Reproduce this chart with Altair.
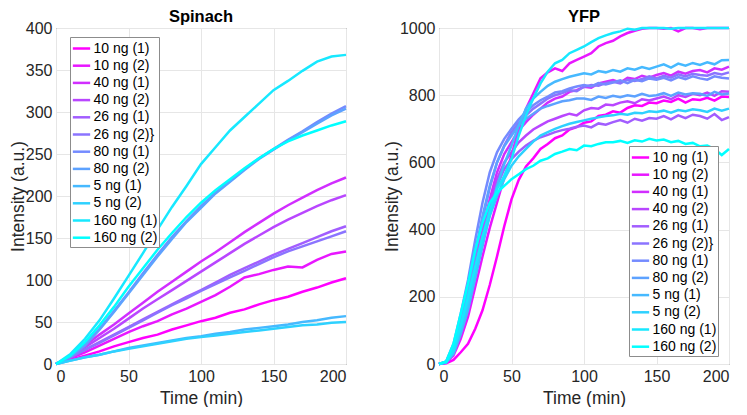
import altair as alt
import pandas as pd

FONT = "Liberation Sans"

labels = ["10 ng (1)", "10 ng (2)", "40 ng (1)", "40 ng (2)", "26 ng (1)", "26 ng (2)}",
          "80 ng (1)", "80 ng (2)", "5 ng (1)", "5 ng (2)", "160 ng (1)", "160 ng (2)"]
colors = ["#ff00ff", "#e817ff", "#d12eff", "#b946ff", "#a25dff", "#8b74ff",
          "#748bff", "#5da2ff", "#46b9ff", "#2ed1ff", "#17e8ff", "#00ffff"]

# ---- Spinach (t = 0..200 step 10) ----
spinach_time = list(range(0, 201, 10))
sp_10_1 = [0, 5, 10, 15, 21, 26, 31, 35, 41, 46, 51, 55, 61, 65, 71, 76, 80, 86, 91, 97, 102]
sp_10_2 = [0, 7, 14, 22, 30, 38, 45, 51, 59, 66, 74, 82, 92, 103, 107, 112, 116, 115, 124, 131, 134]
sp_40_1 = [0, 10, 22, 35, 47, 60, 73, 86, 98, 110, 122, 133, 145, 157, 168, 179, 189, 198, 207, 215, 222]
sp_40_2 = [0, 9, 20, 31, 42, 54, 66, 77, 88, 99, 110, 121, 132, 143, 153, 163, 172, 180, 188, 195, 201]
sp_26_1 = [0, 8, 17, 26, 35, 44, 53, 62, 71, 80, 88, 97, 106, 114, 122, 130, 137, 144, 151, 158, 164]
sp_26_2 = [0, 8, 17, 25, 34, 43, 52, 61, 70, 78, 87, 95, 103, 111, 119, 127, 134, 140, 146, 152, 158]
sp_80_1 = [0, 9, 23, 42, 63, 85, 108, 130, 151, 170, 188, 204, 218, 232, 245, 256, 267, 277, 288, 298, 307]
sp_80_2 = [0, 9, 22, 41, 62, 84, 106, 128, 149, 169, 186, 203, 217, 231, 244, 255, 266, 276, 286, 296, 304]
sp_5_1 = [0, 4, 8, 11, 15, 19, 22, 25, 28, 31, 33, 36, 38, 41, 43, 45, 47, 50, 52, 55, 57]
sp_5_2 = [0, 4, 8, 11, 15, 18, 21, 24, 27, 30, 32, 34, 36, 38, 40, 42, 44, 46, 47, 49, 50]
sp_160_1 = [0, 12, 30, 52, 78, 105, 132, 160, 187, 212, 238, 258, 278, 294, 310, 326, 337, 349, 360, 366, 368]
sp_160_2 = [0, 10, 26, 46, 68, 92, 114, 136, 156, 175, 192, 207, 220, 233, 245, 256, 265, 272, 278, 284, 289]
spinach_series = [sp_10_1, sp_10_2, sp_40_1, sp_40_2, sp_26_1, sp_26_2,
                  sp_80_1, sp_80_2, sp_5_1, sp_5_2, sp_160_1, sp_160_2]

# ---- YFP (t = 0..200 step 5) ----
yfp_time = list(range(0, 201, 5))
y_10_1 = [0, 2, 12, 35, 60, 105, 160, 235, 320, 410, 490, 548, 588, 612, 640, 655, 672, 680, 698, 705, 718,
          722, 738, 742, 752, 748, 762, 770, 768, 778, 776, 784, 780, 790, 778, 788, 786, 792, 784, 796, 795]
y_10_2 = [0, 4, 25, 75, 140, 230, 320, 405, 480, 555, 620, 700, 760, 805, 850, 868, 880, 872, 895, 905, 915,
          925, 945, 955, 962, 975, 985, 992, 998, 1000, 1000, 998, 1000, 990, 1000, 1000, 996, 1000, 1000, 1000, 1000]
y_40_1 = [0, 5, 35, 100, 190, 300, 400, 490, 570, 625, 660, 695, 720, 742, 760, 778, 790, 796, 810, 815, 825,
          822, 835, 840, 845, 838, 852, 848, 858, 852, 860, 866, 858, 870, 864, 872, 875, 868, 880, 876, 885]
y_40_2 = [0, 5, 35, 100, 185, 290, 390, 475, 550, 600, 630, 660, 680, 698, 710, 722, 730, 738, 745, 740, 755,
          762, 760, 772, 770, 778, 782, 776, 788, 784, 790, 796, 788, 800, 795, 804, 800, 808, 798, 812, 810]
y_26_1 = [0, 4, 30, 90, 170, 270, 370, 455, 530, 580, 610, 632, 650, 664, 675, 682, 690, 696, 700, 706, 710,
          704, 716, 712, 720, 726, 718, 730, 724, 732, 730, 738, 728, 740, 732, 742, 738, 730, 744, 726, 735]
y_26_2 = [0, 6, 45, 125, 215, 325, 430, 525, 600, 650, 690, 718, 740, 760, 775, 790, 800, 806, 815, 812, 825,
          830, 828, 836, 840, 835, 846, 842, 848, 856, 850, 858, 852, 862, 856, 864, 860, 858, 866, 862, 868]
y_80_1 = [0, 8, 60, 150, 250, 370, 480, 570, 630, 670, 700, 728, 750, 770, 785, 796, 808, 812, 820, 826, 830,
          826, 836, 832, 838, 844, 836, 846, 842, 850, 846, 852, 844, 854, 848, 856, 850, 846, 856, 852, 850]
y_80_2 = [0, 7, 50, 135, 220, 335, 440, 530, 600, 648, 680, 710, 730, 745, 760, 768, 775, 782, 785, 790, 790,
          786, 796, 792, 798, 794, 800, 796, 804, 798, 800, 806, 798, 808, 802, 806, 804, 798, 810, 802, 805]
y_5_1 = [0, 5, 30, 90, 160, 255, 350, 445, 530, 595, 650, 710, 760, 790, 810, 828, 840, 848, 855, 860, 865,
         862, 872, 868, 875, 870, 880, 876, 884, 878, 885, 892, 882, 894, 888, 896, 890, 898, 892, 904, 905]
y_5_2 = [0, 5, 40, 105, 180, 270, 360, 440, 500, 550, 590, 618, 640, 662, 680, 690, 700, 708, 715, 720, 725,
         730, 734, 738, 740, 745, 742, 748, 746, 752, 750, 754, 748, 756, 752, 758, 755, 750, 760, 754, 760]
y_160_1 = [0, 6, 40, 115, 200, 290, 380, 455, 520, 560, 610, 680, 740, 790, 835, 870, 895, 905, 925, 935, 945,
           958, 970, 978, 985, 990, 998, 995, 1000, 1000, 1000, 1000, 998, 1000, 1000, 1000, 1000, 1000, 1000, 1000, 1000]
y_160_2 = [0, 8, 60, 150, 240, 340, 420, 480, 510, 530, 550, 565, 580, 590, 605, 612, 625, 632, 640, 636, 650,
           648, 655, 660, 660, 664, 658, 666, 662, 670, 665, 668, 660, 664, 655, 658, 648, 650, 640, 622, 640]
yfp_series = [y_10_1, y_10_2, y_40_1, y_40_2, y_26_1, y_26_2,
              y_80_1, y_80_2, y_5_1, y_5_2, y_160_1, y_160_2]


def to_df(times, series):
    rows = []
    for i, (lab, vals) in enumerate(zip(labels, series)):
        for t, v in zip(times, vals):
            rows.append({"time": t, "value": v, "series": lab, "order": i})
    return pd.DataFrame(rows)


def panel(df, title, ymax, yvals, lx, ly):
    return alt.Chart(df, title=alt.TitleParams(
        title, fontSize=16.5, fontWeight="bold", font=FONT, color="black", offset=-5)
    ).mark_line(strokeWidth=2.5).encode(
        x=alt.X("time:Q", scale=alt.Scale(domain=[0, 200], nice=False),
                axis=alt.Axis(values=[0, 50, 100, 150, 200], title="Time (min)")),
        y=alt.Y("value:Q", scale=alt.Scale(domain=[0, ymax], nice=False),
                axis=alt.Axis(values=yvals, format="d", title="Intensity (a.u.)")),
        color=alt.Color("series:N", sort=labels,
                        scale=alt.Scale(domain=labels, range=colors),
                        legend=alt.Legend(orient="none", legendX=lx, legendY=ly, title=None)),
    ).properties(width=290, height=336)


left = panel(to_df(spinach_time, spinach_series), "Spinach", 400,
             [0, 50, 100, 150, 200, 250, 300, 350, 400], 14, 9)
right = panel(to_df(yfp_time, yfp_series), "YFP", 1000,
              [0, 200, 400, 600, 800, 1000], 190, 118)

chart = alt.hconcat(left, right, spacing=30).properties(padding=0).resolve_scale(
    color="independent").resolve_legend(color="independent").configure_view(
    stroke="#4d4d4d", strokeWidth=1
).configure_axis(
    labelFont=FONT, labelFontSize=16, labelColor="#262626",
    titleFont=FONT, titleFontSize=17.5, titleFontWeight="normal", titleColor="#262626",
    gridColor="#e6e6e6", gridWidth=1, domain=False, ticks=False, labelPadding=4,
).configure_axisX(titlePadding=5).configure_axisY(titlePadding=-2).configure_legend(
    labelFont=FONT, labelFontSize=14, labelColor="black",
    symbolType="stroke", symbolSize=300, symbolStrokeWidth=2.5,
    strokeColor="#8c8c8c", fillColor="white", padding=1.5, rowPadding=0.2,
    labelOffset=2, cornerRadius=0, labelLimit=200,
).configure_title(anchor="middle")

chart.save("out.html", embed_options={"renderer": "svg", "actions": False})
